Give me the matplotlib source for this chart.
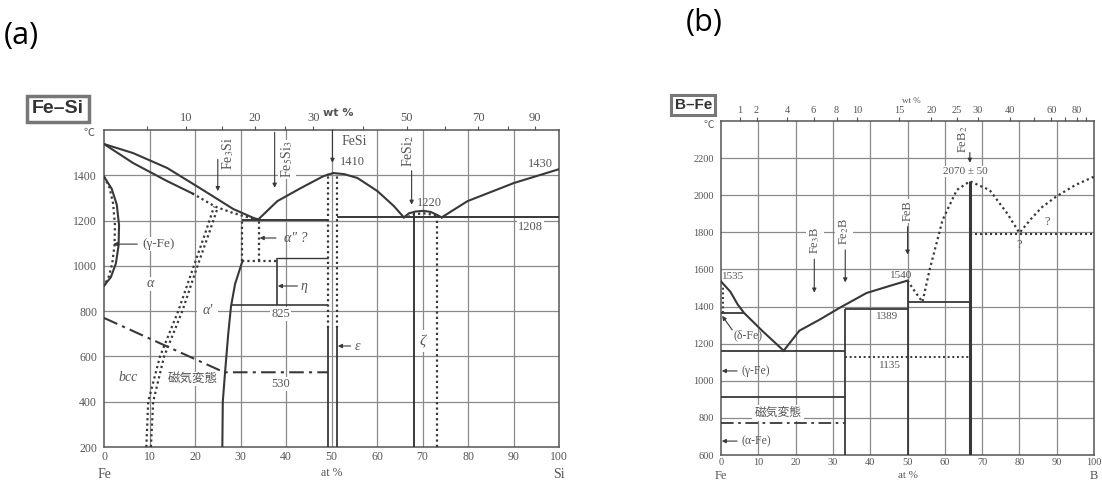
import matplotlib
matplotlib.use('Agg')
import matplotlib.pyplot as plt
import numpy as np

plt.rcParams['font.family'] = ['Liberation Serif', 'Noto Sans CJK JP', 'DejaVu Sans']
plt.rcParams['mathtext.fontset'] = 'stix'

LC = '#383838'   # phase lines
GC = '#8a8a8a'   # grid
TC = '#555555'   # text
DOT = (0, (1, 1.4))

# ---------------- (a) Fe-Si, at% Si vs degC ----------------
fesi_liq_x = [0, 6.4, 13.9, 21.1, 28.4, 32.8, 33.9]
fesi_liq_t = [1538, 1498, 1432, 1343, 1251, 1212, 1205]
fesi_sol_x = [0, 6.4, 13.9, 19.4]
fesi_sol_t = [1538, 1454, 1374, 1320]
fesi_sol_dot_x = [19.4, 22.0, 24.4, 28.0, 31.0, 33.9]
fesi_sol_dot_t = [1320, 1290, 1262, 1236, 1218, 1205]
fesi_gloop_x = [0, 1.7, 2.8, 3.3, 3.2, 2.6, 1.5, 0]
fesi_gloop_t = [1394, 1340, 1270, 1180, 1090, 1010, 950, 912]
fesi_gloop_dot_x = [0, 1.2, 2.0, 2.4, 2.3, 1.8, 1.0, 0]
fesi_gloop_dot_t = [1394, 1345, 1275, 1180, 1090, 1010, 950, 912]
fesi_ord1_x = [9.3, 9.7, 12.3, 16.3, 19.4, 22.0, 24.2]
fesi_ord1_t = [200, 400, 600, 800, 980, 1130, 1262]
fesi_ord2_x = [10.3, 10.8, 13.2, 17.2, 20.2, 23.0, 25.0]
fesi_ord2_t = [200, 400, 600, 800, 980, 1140, 1258]
fesi_curie_x = [0, 26.4, 49.3]
fesi_curie_t = [770, 530, 530]
fesi_a2_x = [26.0, 26.1, 26.6, 27.3, 27.9, 28.8, 30.4]
fesi_a2_t = [200, 400, 530, 700, 820, 920, 1020]
fesi_liq_mid_x = [33.9, 38.1, 43.2, 48.2, 50.4, 52.8, 55.7, 60.1, 63.7, 65.9]
fesi_liq_mid_t = [1205, 1286, 1343, 1396, 1410, 1405, 1388, 1330, 1264, 1214]
fesi_dome_x = [65.9, 67.0, 68.5, 70.2, 71.8, 73.2, 74.2]
fesi_dome_t = [1214, 1232, 1240, 1243, 1238, 1225, 1214]
fesi_dome_dot_x = [66.8, 68.2, 70.2, 72.0, 73.2]
fesi_dome_dot_t = [1216, 1228, 1232, 1227, 1216]
fesi_liq_right_x = [74.2, 79.9, 90.1, 100]
fesi_liq_right_t = [1214, 1286, 1366, 1427]
fesi_wt_labels = [10, 20, 30, 50, 70, 90]
fesi_wt_ticks = [5, 10, 15, 20, 25, 30, 40, 50, 60, 70, 80, 90]

# ---------------- (b) B-Fe, at% B vs degC ----------------
bfe_liq_x = [0, 2.5, 4.5, 6.2, 11.0, 16.8]
bfe_liq_t = [1535, 1480, 1410, 1365, 1270, 1162]
bfe_liq2_x = [16.8, 21.0, 26.3, 31.7, 39.0, 46.0, 50.0]
bfe_liq2_t = [1162, 1270, 1328, 1392, 1473, 1516, 1540]
bfe_dot_x = [50.0, 52.0, 54.0, 55.9, 59.4, 63.2, 66.7, 72.0, 76.6, 80.0,
             83.0, 86.0, 90.0, 95.0, 100.0]
bfe_dot_t = [1540, 1480, 1425, 1597, 1867, 2028, 2075, 2028, 1905, 1797,
             1870, 1935, 1995, 2055, 2100]
bfe_wt_labels = [1, 2, 4, 6, 8, 10, 15, 20, 25, 30, 40, 60, 80]
bfe_wt_ticks = [1, 2, 4, 6, 8, 10, 15, 20, 25, 30, 40, 50, 60, 70, 80, 90]


def wt_to_at(w, m_x, m_fe=55.845):
    w = np.asarray(w, float)
    a = w / m_x
    return 100 * a / (a + (100 - w) / m_fe)


def label(ax, x, y, s, size=8.5, **kw):
    kw.setdefault('bbox', dict(fc='white', ec='none', pad=0.6))
    ax.text(x, y, s, fontsize=size, color=TC, ha='center', va='center',
            zorder=4, **kw)


def arrow(ax, x0, y0, x1, y1):
    ax.annotate('', xy=(x1, y1), xytext=(x0, y0), zorder=5,
                arrowprops=dict(arrowstyle='-|>', color=LC, lw=0.8,
                                mutation_scale=6, shrinkA=0, shrinkB=0))


def frame(ax, xlim, ylim, hgrid, yt, m_x, wt_ticks, wt_labels, top_fs):
    ax.set_xlim(*xlim)
    ax.set_ylim(*ylim)
    for t in hgrid:
        ax.axhline(t, color=GC, lw=0.9, zorder=1)
    for x in range(10, 100, 10):
        ax.axvline(x, color=GC, lw=0.9, zorder=1)
    ax.set_yticks(yt)
    ax.set_yticklabels([str(v) for v in yt])
    ax.set_xticks(range(0, 101, 10))
    ax.tick_params(length=0, labelsize=8.5, labelcolor=TC, pad=5)
    ax.tick_params(axis='x', pad=3)
    for s in ax.spines.values():
        s.set_color('#555555')
        s.set_linewidth(1.1)
    top = ax.twiny()
    top.set_xlim(*xlim)
    top.set_xticks(wt_to_at(wt_ticks, m_x))
    top.set_xticklabels([str(w) if w in wt_labels else '' for w in wt_ticks])
    top.tick_params(length=3, width=0.8, color='#555555', labelsize=top_fs,
                    labelcolor=TC, pad=1)
    for s in top.spines.values():
        s.set_visible(False)


fig = plt.figure(figsize=(11.02, 4.82), dpi=100)

# ======================= panel (a) =======================
ax1 = fig.add_axes([0.0944, 0.0726, 0.4129, 0.6577])
frame(ax1, (0, 100), (200, 1600), [400, 600, 800, 1000, 1200, 1400],
      [200, 400, 600, 800, 1000, 1200, 1400], 28.086,
      fesi_wt_ticks, fesi_wt_labels, 9)

kw = dict(color=LC, lw=1.5, zorder=3)
kd = dict(color=LC, lw=1.6, ls=DOT, zorder=3)
ax1.plot(fesi_liq_x, fesi_liq_t, **kw)
ax1.plot(fesi_sol_x, fesi_sol_t, **kw)
ax1.plot(fesi_sol_dot_x, fesi_sol_dot_t, **kd)
ax1.plot(fesi_gloop_x, fesi_gloop_t, **kw)
ax1.plot(fesi_gloop_dot_x, fesi_gloop_dot_t, **kd)
ax1.plot(fesi_ord1_x, fesi_ord1_t, **kd)
ax1.plot(fesi_ord2_x, fesi_ord2_t, **kd)
ax1.plot(fesi_curie_x, fesi_curie_t, color=LC, lw=1.5, ls=(0, (7, 2.5, 1.5, 2.5)), zorder=3)
ax1.plot(fesi_a2_x, fesi_a2_t, **kw)
ax1.plot(fesi_liq_mid_x, fesi_liq_mid_t, **kw)
ax1.plot(fesi_dome_x, fesi_dome_t, **kw)
ax1.plot(fesi_dome_dot_x, fesi_dome_dot_t, **kd)
ax1.plot(fesi_liq_right_x, fesi_liq_right_t, **kw)

# invariant lines and phase boundaries
ax1.hlines(1203, 30.4, 49.3, color=LC, lw=1.4, zorder=3)
ax1.hlines(1214, 51.2, 100, color=LC, lw=1.4, zorder=3)
ax1.hlines(825, 27.9, 49.3, color=LC, lw=1.2, zorder=3)
ax1.hlines(1034, 38, 49.3, color=LC, lw=1.0, zorder=3)
ax1.hlines(1022, 30.4, 38, color=LC, lw=1.6, ls=DOT, zorder=3)
ax1.vlines(38, 825, 1034, color=LC, lw=1.2, zorder=3)
ax1.vlines(30.4, 1022, 1203, color=LC, lw=1.6, ls=DOT, zorder=3)
ax1.vlines(34.0, 1022, 1203, color=LC, lw=1.6, ls=DOT, zorder=3)
ax1.vlines([49.3, 51.2], 725, 1408, color=LC, lw=1.6, ls=DOT, zorder=3)
ax1.vlines([49.3, 51.2], 200, 725, color=LC, lw=1.3, zorder=3)
ax1.vlines(68.1, 200, 1238, color=LC, lw=1.4, zorder=3)
ax1.vlines(73.1, 200, 1218, color=LC, lw=1.6, ls=DOT, zorder=3)

# compound markers
arrow(ax1, 25, 1470, 25, 1330)
ax1.text(27.3, 1495, r'Fe$_3$Si', rotation=90, fontsize=10, color=TC,
         ha='center', va='center', zorder=4,
         bbox=dict(fc='white', ec='none', pad=0.5))
arrow(ax1, 37.5, 1590, 37.5, 1345)
ax1.text(40.2, 1470, r'Fe$_5$Si$_3$', rotation=90, fontsize=10, color=TC,
         ha='center', va='center', zorder=4,
         bbox=dict(fc='white', ec='none', pad=0.5))
arrow(ax1, 50.2, 1600, 50.2, 1455)
label(ax1, 55.0, 1548, 'FeSi', size=10)
label(ax1, 54.5, 1458, '1410', size=9)
arrow(ax1, 67.6, 1420, 67.6, 1270)
ax1.text(66.9, 1510, r'FeSi$_2$', rotation=90, fontsize=10, color=TC,
         ha='center', va='center', zorder=4,
         bbox=dict(fc='white', ec='none', pad=0.5))
label(ax1, 71.6, 1277, '1220', size=9, bbox=None)
label(ax1, 96.0, 1452, '1430', size=9, bbox=None)
label(ax1, 93.8, 1170, '1208', size=9)

# phase labels
label(ax1, 12.0, 1096, '(γ-Fe)', size=9.5)
arrow(ax1, 7.3, 1096, 2.0, 1096)
label(ax1, 10.1, 920, 'α', size=10, style='italic')
label(ax1, 22.7, 805, "α'", size=10, style='italic', bbox=dict(fc='white', ec='none', pad=4))
label(ax1, 5.3, 505, 'bcc', size=10, style='italic')
label(ax1, 19.5, 500, '磁気変態', size=9)
label(ax1, 38.8, 787, '825', size=9)
label(ax1, 38.8, 478, '530', size=9)
label(ax1, 42.2, 1123, 'α″ ?', size=10, style='italic', bbox=None)
arrow(ax1, 37.8, 1123, 34.2, 1123)
label(ax1, 44.0, 911, 'η', size=10, style='italic', bbox=None)
arrow(ax1, 42.5, 911, 38.2, 911)
label(ax1, 55.6, 646, 'ε', size=10, style='italic', bbox=None)
arrow(ax1, 54.2, 646, 51.4, 646)
label(ax1, 70.0, 668, 'ζ', size=11, style='italic', bbox=dict(fc='white', ec='none', pad=3))

ax1.text(-2, 1585, '℃', fontsize=8, color=TC, ha='right', va='center')
ax1.text(0, 78, 'Fe', fontsize=10, color=TC, ha='center', va='center', clip_on=False)
ax1.text(50, 84, 'at %', fontsize=8.5, color=TC, ha='center', va='center', clip_on=False)
ax1.text(100, 78, 'Si', fontsize=10, color=TC, ha='center', va='center', clip_on=False)
ax1.text(51.5, 1675, 'wt %', fontsize=8, weight='bold', color=TC,
         ha='center', va='center', clip_on=False, family='DejaVu Sans')

# ======================= panel (b) =======================
ax2 = fig.add_axes([0.6543, 0.056, 0.3385, 0.693])
frame(ax2, (0, 100), (600, 2400), [800, 1000, 1200, 1400, 1600, 1800, 2000, 2200],
      [600, 800, 1000, 1200, 1400, 1600, 1800, 2000, 2200], 10.81,
      bfe_wt_ticks, bfe_wt_labels, 7.5)
ax2.tick_params(labelsize=7.5)
ax2.tick_params(axis='x', pad=2)

ax2.plot(bfe_liq_x, bfe_liq_t, **kw)
ax2.plot(bfe_liq2_x, bfe_liq2_t, **kw)
ax2.plot(bfe_dot_x, bfe_dot_t, **kd)
ax2.vlines(0.6, 1365, 1510, color=LC, lw=1.4, ls=DOT, zorder=3)

ax2.vlines(33.3, 600, 1389, color=LC, lw=1.3, zorder=3)
ax2.vlines(50.0, 600, 1540, color=LC, lw=1.3, zorder=3)
ax2.vlines(66.7, 600, 2075, color=LC, lw=2.2, zorder=3)
ax2.hlines(1389, 33.3, 50, color=LC, lw=1.3, zorder=3)
ax2.hlines(1425, 50, 66.7, color=LC, lw=1.3, zorder=3)
ax2.hlines(1365, 0, 6.2, color=LC, lw=1.3, zorder=3)
ax2.hlines(1162, 0, 33.3, color=LC, lw=1.3, zorder=3)
ax2.hlines(915, 0, 33.3, color=LC, lw=1.3, zorder=3)
ax2.hlines(770, 0, 33.3, color=LC, lw=1.3, ls=(0, (7, 2.5, 1.5, 2.5)), zorder=5)
ax2.hlines(1130, 33.3, 66.7, color=LC, lw=1.4, ls=DOT, zorder=3)
ax2.hlines(1790, 66.7, 100, color=LC, lw=1.5, ls=DOT, zorder=3)

arrow(ax2, 25.0, 1655, 25.0, 1475)
ax2.text(25.2, 1755, r'Fe$_3$B', rotation=90, fontsize=9, color=TC,
         ha='center', va='center', zorder=4,
         bbox=dict(fc='white', ec='none', pad=1.5))
arrow(ax2, 33.3, 1705, 33.3, 1530)
ax2.text(33.0, 1805, r'Fe$_2$B', rotation=90, fontsize=9, color=TC,
         ha='center', va='center', zorder=4,
         bbox=dict(fc='white', ec='none', pad=1.5))
arrow(ax2, 50.0, 1830, 50.0, 1680)
ax2.text(50.0, 1915, 'FeB', rotation=90, fontsize=9, color=TC,
         ha='center', va='center', zorder=4,
         bbox=dict(fc='white', ec='none', pad=1.5))
arrow(ax2, 66.7, 2230, 66.7, 2175)
ax2.text(64.8, 2300, r'FeB$_2$', rotation=90, fontsize=9, color=TC,
         ha='center', va='center', zorder=4,
         bbox=dict(fc='white', ec='none', pad=1))

label(ax2, 3.2, 1562, '1535', size=8, bbox=None)
label(ax2, 48.2, 1567, '1540', size=8, bbox=None)
label(ax2, 65.6, 2128, '2070 ± 50', size=8)
label(ax2, 80.0, 1732, '?', size=9, bbox=None)
label(ax2, 87.4, 1856, '?', size=9, bbox=None)
label(ax2, 44.4, 1344, '1389', size=8, bbox=None)
label(ax2, 45.2, 1085, '1135', size=8, bbox=None)
label(ax2, 7.2, 1247, '(δ-Fe)', size=8.5, bbox=None)
arrow(ax2, 3.0, 1274, 0.3, 1350)
label(ax2, 9.2, 1053, '(γ-Fe)', size=8.5, bbox=None)
arrow(ax2, 4.3, 1053, 0.2, 1053)
label(ax2, 15.3, 825, '磁気変態', size=8.5, bbox=dict(fc='white', ec='none', pad=1.5))
label(ax2, 9.4, 675, '(α-Fe)', size=8.5, bbox=None)
arrow(ax2, 4.3, 675, 0.2, 675)

ax2.text(-2, 2375, '℃', fontsize=7.5, color=TC, ha='right', va='center')
ax2.text(0, 488, 'Fe', fontsize=9, color=TC, ha='center', va='center', clip_on=False)
ax2.text(50, 490, 'at %', fontsize=8, color=TC, ha='center', va='center', clip_on=False)
ax2.text(100, 488, 'B', fontsize=9, color=TC, ha='center', va='center', clip_on=False)
ax2.text(51, 2505, 'wt %', fontsize=6.5, color=TC, ha='center', va='center',
         clip_on=False)

# titles and panel letters
fig.text(0.0526, 0.774, 'Fe–Si', fontsize=14, weight='bold', color='#333333',
         family='Liberation Sans', ha='center', va='center',
         bbox=dict(boxstyle='square,pad=0.25', fc='white', ec='#777777', lw=2.5))
fig.text(0.629, 0.782, 'B–Fe', fontsize=11, weight='bold', color='#333333',
         family='Liberation Sans', ha='center', va='center',
         bbox=dict(boxstyle='square,pad=0.2', fc='white', ec='#777777', lw=2.2))
fig.text(0.003, 0.925, '(a)', fontsize=22, family='Open Sans', ha='left', va='center')
fig.text(0.622, 0.952, '(b)', fontsize=22, family='Open Sans', ha='left', va='center')

fig.savefig('out.png', dpi=100)
